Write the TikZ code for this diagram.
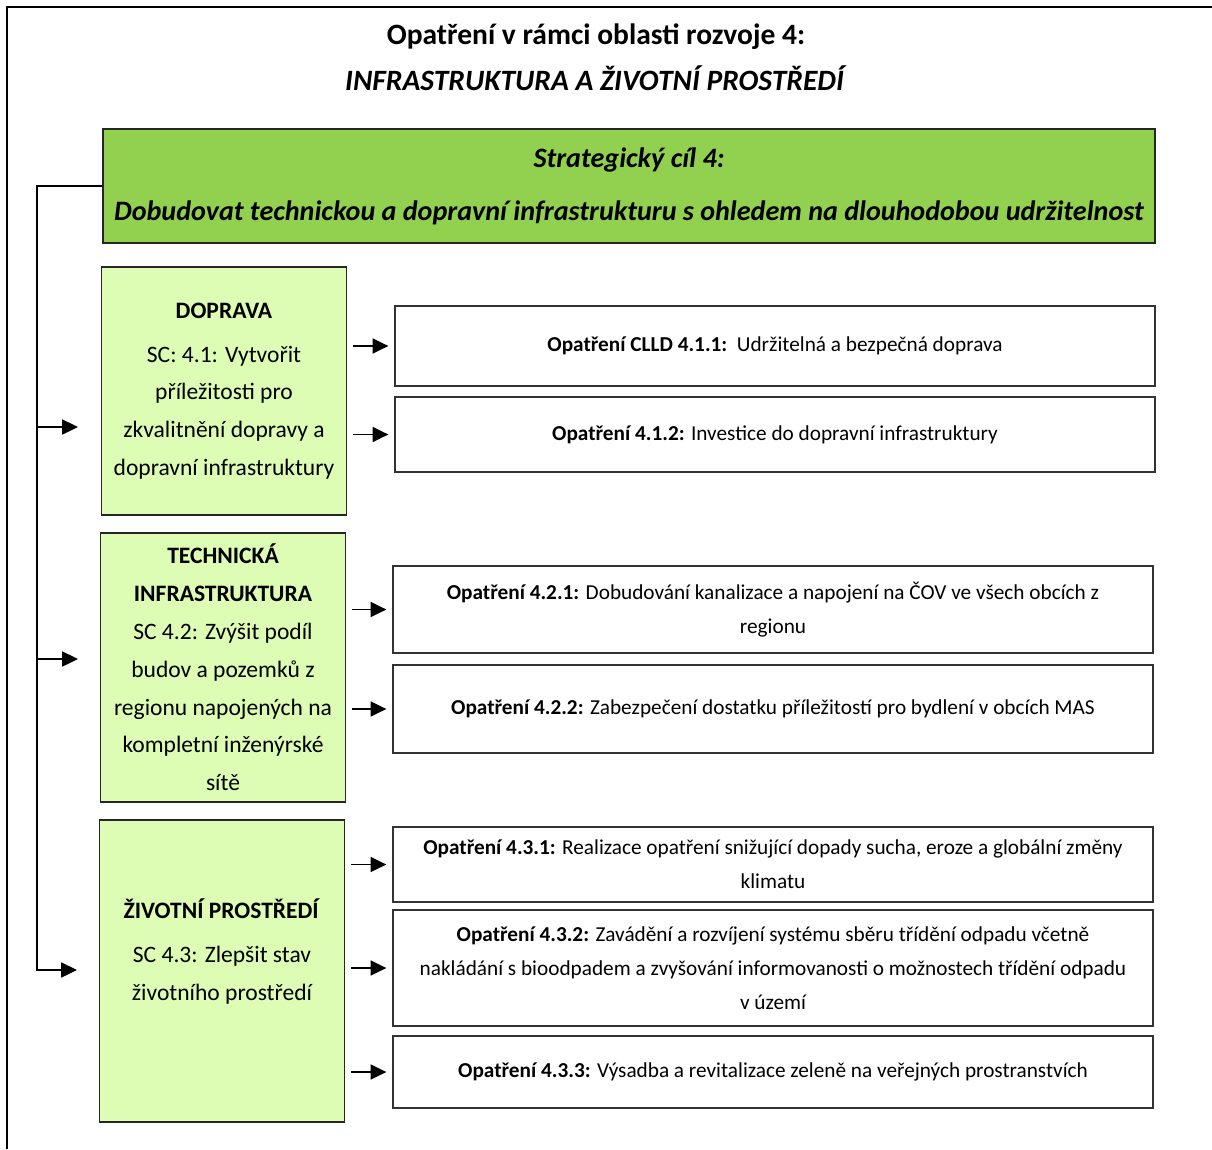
\documentclass[tikz,border=0pt]{standalone}
\usepackage{fontspec}
\setmainfont{Carlito}
\usetikzlibrary{arrows.meta, positioning}
\definecolor{cilgreen}{RGB}{146,208,80}
\definecolor{scgreen}{RGB}{221,252,180}

\begin{document}
\begin{tikzpicture}[x=0.02cm, y=-0.02cm,
  goal/.style={draw=black!85, line width=1pt, fill=cilgreen, minimum width=21.04cm, minimum height=2.28cm, align=center, font=\fontsize{16}{30}\selectfont\bfseries\itshape, inner sep=0pt},
  scbox/.style={draw=black!85, line width=1pt, fill=scgreen, minimum width=4.9cm, align=center, font=\fontsize{13.4}{21.5}\selectfont, inner sep=0pt},
  measure/.style={draw=black!80, line width=0.8pt, minimum width=15.2cm, align=center, font=\fontsize{12.1}{19.3}\selectfont, inner sep=0pt},
  arr/.style={-{Triangle[length=9pt, width=8.5pt]}, line width=1.1pt},
  toright/.style={arr, shorten <=0.12cm, shorten >=0.12cm}
]
\useasboundingbox (0,0) rectangle (1212,1149);
\draw[line width=1.1pt] (7,1149) -- (7,7) -- (1212,7);

\node[align=center, font=\fontsize{16.8}{26}\selectfont\bfseries] (title) at (596,57)
  {Opatření v rámci oblasti rozvoje 4:\\ \textit{INFRASTRUKTURA A ŽIVOTNÍ PROSTŘEDÍ}};

\node[goal] (cil) at (629,186) {Strategický cíl 4:\\ Dobudovat technickou a dopravní infrastrukturu s ohledem na dlouhodobou udržitelnost};

% specificke cile
\node[scbox, minimum height=4.96cm] (dop) at (224,391)
  {\textbf{DOPRAVA}\\[3.5pt] SC: 4.1: Vytvořit\\ příležitosti pro\\ zkvalitnění dopravy a\\ dopravní infrastruktury};
\node[scbox, minimum height=5.38cm] (tech) at (223,667.5)
  {\textbf{TECHNICKÁ}\\ \textbf{INFRASTRUKTURA}\\ SC 4.2: Zvýšit podíl\\ budov a pozemků z\\ regionu napojených na\\ kompletní inženýrské\\ sítě};
\node[scbox, minimum height=6.04cm] (zp) at (222,971)
  {\textbf{ŽIVOTNÍ PROSTŘEDÍ}\\[3.5pt] SC 4.3: Zlepšit stav\\ životního prostředí\\[2.5pt]~};

% opatreni
\node[measure, minimum height=1.6cm] (m11) at (775,346)
  {\raisebox{-4pt}{\textbf{Opatření CLLD 4.1.1:}\ \ Udržitelná a bezpečná doprava}};
\node[measure, minimum height=1.5cm] (m12) at (775,434.5)
  {\textbf{Opatření 4.1.2:} Investice do dopravní infrastruktury};
\node[measure, minimum height=1.74cm] (m21) at (773,609.5)
  {\textbf{Opatření 4.2.1:} Dobudování kanalizace a napojení na ČOV ve všech obcích z\\ regionu};
\node[measure, minimum height=1.76cm] (m22) at (773,709)
  {\textbf{Opatření 4.2.2:} Zabezpečení dostatku příležitostí pro bydlení v obcích MAS};
\node[measure, minimum height=1.5cm] (m31) at (773,864.5)
  {\textbf{Opatření 4.3.1:} Realizace opatření snižující dopady sucha, eroze a globální změny\\ klimatu};
\node[measure, minimum height=2.32cm] (m32) at (773,968)
  {\textbf{Opatření 4.3.2:} Zavádění a rozvíjení systému sběru třídění odpadu včetně\\ nakládání s bioodpadem a zvyšování informovanosti o možnostech třídění odpadu\\ v území};
\node[measure, minimum height=1.44cm] (m33) at (773,1072)
  {\textbf{Opatření 4.3.3:} Výsadba a revitalizace zeleně na veřejných prostranstvích};

% vetev vlevo
\coordinate (t1) at (37,427);
\coordinate (t2) at (37,659);
\coordinate (t3) at (37,970);
\draw[arr] (cil.west) -| (t3) -- ++(40,0);
\draw[arr] (t1) -- ++(41,0);
\draw[arr] (t2) -- ++(41,0);

\draw[toright] (dop.east |- m11.west) -- (m11.west);
\draw[toright] (dop.east |- m12.west) -- (m12.west);
\draw[toright] (tech.east |- m21.west) -- (m21.west);
\draw[toright] (tech.east |- m22.west) -- (m22.west);
\draw[toright] (zp.east |- m31.west) -- (m31.west);
\draw[toright] (zp.east |- m32.west) -- (m32.west);
\draw[toright] (zp.east |- m33.west) -- (m33.west);
\end{tikzpicture}
\end{document}
